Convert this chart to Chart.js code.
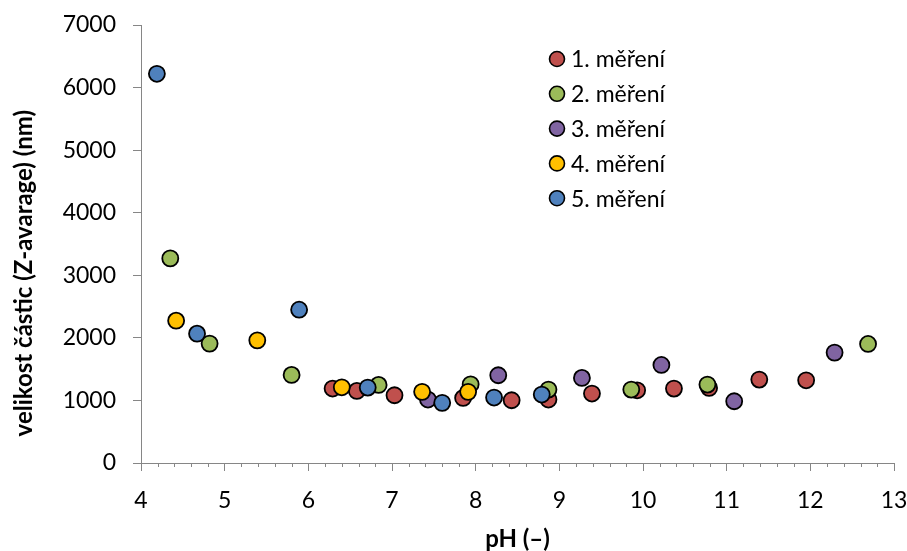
<!DOCTYPE html>
<html>
<head>
<meta charset="utf-8">
<script src="https://cdn.jsdelivr.net/npm/chart.js@4"></script>
<style>
  body { margin: 0; background: #fff; }
  #wrap { width: 907px; height: 551px; }
</style>
</head>
<body>
<div id="wrap"><canvas id="myChart"></canvas></div>
<script>
const seriesNames = ["1. měření", "2. měření", "3. měření", "4. měření", "5. měření"];
const seriesColors = ["#C0504D", "#9BBB59", "#8064A2", "#FFC000", "#4F81BD"];

const ph1 = [6.29, 6.58, 7.03, 7.85, 8.43, 8.87, 9.39, 9.93, 10.37, 10.79, 11.39, 11.95];
const size1 = [1190, 1152, 1083, 1040, 1003, 1014, 1110, 1162, 1189, 1200, 1333, 1322];

const ph2 = [4.35, 4.82, 5.80, 6.84, 7.94, 8.87, 9.86, 10.77, 12.69];
const size2 = [3270, 1908, 1408, 1248, 1258, 1173, 1173, 1253, 1903];

const ph3 = [7.43, 8.27, 9.27, 10.22, 11.09, 12.29];
const size3 = [1014, 1402, 1360, 1567, 987, 1764];

const ph4 = [4.42, 5.39, 6.40, 7.36, 7.91];
const size4 = [2275, 1960, 1210, 1137, 1137];

const ph5 = [4.19, 4.67, 5.89, 6.71, 7.60, 8.22, 8.79];
const size5 = [6220, 2067, 2450, 1205, 961, 1046, 1094];

const xTicks = [4, 5, 6, 7, 8, 9, 10, 11, 12, 13];
const yTicks = [0, 1000, 2000, 3000, 4000, 5000, 6000, 7000];

const allPh = [ph1, ph2, ph3, ph4, ph5];
const allSize = [size1, size2, size3, size4, size5];

const datasets = seriesNames.map((name, i) => ({
  label: name,
  data: allPh[i].map((x, j) => ({ x: x, y: allSize[i][j] })),
  backgroundColor: seriesColors[i],
  borderColor: "#000",
  borderWidth: 1.8,
  pointRadius: 8,
  order: 4 - i,
}));

const axisGray = "#868686";
const font = "Lato";

// minor ticks on the x axis every 0.2
const minorTicks = {
  id: "minorTicks",
  afterDraw(chart) {
    const xs = chart.scales.x;
    const ctx = chart.ctx;
    const y0 = chart.scales.y.getPixelForValue(0);
    ctx.save();
    ctx.strokeStyle = axisGray;
    ctx.lineWidth = 1;
    for (let i = 20; i <= 65; i++) {
      if (i % 5 === 0) continue;
      const px = Math.round(xs.getPixelForValue(i / 5)) + 0.5;
      ctx.beginPath();
      ctx.moveTo(px, y0);
      ctx.lineTo(px, y0 + 4);
      ctx.stroke();
    }
    ctx.restore();
  },
};

// legend as a column inside the plot
const columnLegend = {
  id: "columnLegend",
  afterDraw(chart) {
    const ctx = chart.ctx;
    ctx.save();
    ctx.font = "23px " + font;
    ctx.textBaseline = "middle";
    chart.data.datasets.forEach((ds, i) => {
      const cy = 59 + i * 34.8;
      ctx.beginPath();
      ctx.arc(557, cy, 7.5, 0, Math.PI * 2);
      ctx.fillStyle = ds.backgroundColor;
      ctx.fill();
      ctx.lineWidth = 1.6;
      ctx.strokeStyle = "#000";
      ctx.stroke();
      ctx.fillStyle = "#000";
      ctx.fillText(ds.label, 571, cy + 1);
    });
    ctx.restore();
  },
};

new Chart(document.getElementById("myChart"), {
  type: "scatter",
  data: { datasets: datasets },
  plugins: [minorTicks, columnLegend],
  options: {
    responsive: true,
    maintainAspectRatio: false,
    animation: false,
    layout: { padding: { top: 25, right: 13, left: 0, bottom: 0 } },
    plugins: {
      legend: { display: false },
      tooltip: { enabled: false },
    },
    scales: {
      x: {
        type: "linear",
        min: 4,
        max: 13,
        afterBuildTicks: (scale) => { scale.ticks = xTicks.map((v) => ({ value: v })); },
        afterFit: (scale) => {
          scale.height = 88;
          scale.paddingLeft = 0;
          scale.paddingRight = 0;
        },
        ticks: { color: "#000", font: { family: font, size: 23 }, padding: 16, maxRotation: 0 },
        grid: { drawOnChartArea: false, tickLength: 8, color: axisGray },
        border: { color: axisGray, width: 1 },
        title: {
          display: true,
          text: "pH (–)",
          color: "#000",
          font: { family: font, size: 24, weight: "bold", lineHeight: 1 },
          padding: { top: 0, bottom: 0 },
        },
      },
      y: {
        min: 0,
        max: 7000,
        afterBuildTicks: (scale) => { scale.ticks = yTicks.map((v) => ({ value: v })); },
        afterFit: (scale) => {
          scale.width = 141;
          scale.paddingTop = 0;
          scale.paddingBottom = 0;
        },
        ticks: { color: "#000", font: { family: font, size: 23 }, padding: 17, callback: (v) => String(v) },
        grid: { drawOnChartArea: false, tickLength: 8, color: axisGray },
        border: { color: axisGray, width: 1 },
        title: {
          display: true,
          // trailing spaces push the title a little down, as in the original
          text: "velikost částic (Z-avarage) (nm)\u00a0\u00a0\u00a0\u00a0\u00a0\u00a0\u00a0\u00a0\u00a0\u00a0",
          color: "#000",
          font: { family: font, size: 24, weight: "bold" },
          padding: { top: 10, bottom: 10 },
        },
      },
    },
  },
});
</script>
</body>
</html>
